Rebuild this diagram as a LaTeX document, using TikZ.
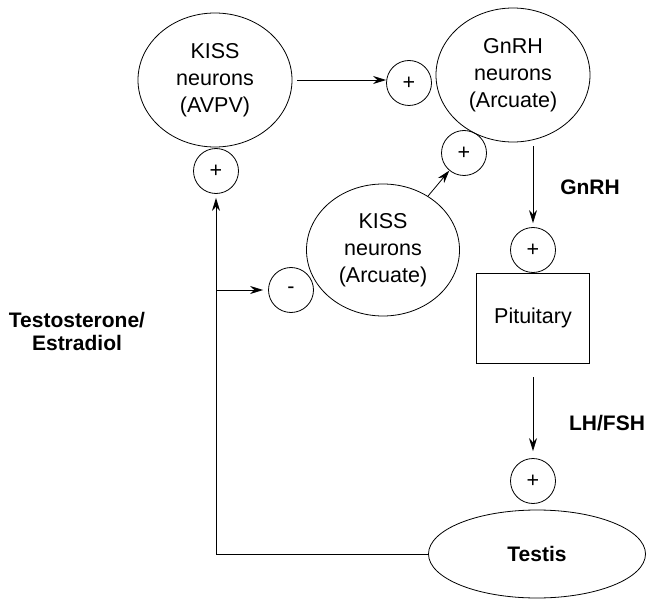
\documentclass[tikz,border=0pt]{standalone}
\usepackage{fontspec}
\setmainfont{Liberation Sans}
\usepackage{tikz}
\usetikzlibrary{shapes.geometric,arrows.meta}

\begin{document}
\begin{tikzpicture}[x=1pt, y=-1pt, line width=0.8pt,
  font=\fontsize{21.5}{27}\selectfont,
  cell/.style={draw, ellipse, align=center, inner sep=0pt, minimum width=154pt, minimum height=134pt},
  sign/.style={draw, circle, inner sep=0pt, minimum size=45pt},
  lbl/.style={font=\fontsize{21}{23}\selectfont\bfseries, align=center},
  arr/.style={-{Stealth[length=13pt,width=8pt]}, line width=0.8pt}]
\useasboundingbox (0,0) rectangle (646,599);
% ---- hypothalamus
\node[cell] (avpv) at (215,80) {KISS\\ neurons\\ (AVPV)};
\node[cell] (gnrh) at (513,75) {GnRH\\ neurons\\ (Arcuate)};
\node[cell, minimum width=153pt, minimum height=132pt] (kissarc) at (383,250) {KISS\\ neurons\\ (Arcuate)};
\node[sign] (pA) at (409,83) {+};
\node[sign] (pB) at (464,153) {+};
\node[sign] (pE) at (216,171) {+};
\node[sign] (mn) at (291,290) {-};
\draw[arr] ([xshift=5pt]avpv.east) -- (avpv.east -| pA.west);
\draw[arr] (kissarc) -- (pB);
% ---- pituitary and testis
\node[sign] (pC) at (533,250) {+};
\node[draw, minimum width=113pt, minimum height=90pt, inner sep=0pt] (pit) at (533,318) {Pituitary};
\node[sign] (pD) at (533,481) {+};
\node[draw, ellipse, inner sep=0pt, minimum width=217pt, minimum height=88pt, font=\fontsize{21}{27}\selectfont\bfseries] (testis) at (537,554) {Testis};
\draw[arr, shorten >=4pt] ([yshift=-4pt]gnrh.south -| pC.north) -- (pC.north);
\draw[arr, shorten <=14pt, shorten >=7pt] (pit.south) -- (pD.north);
\node[lbl] (lgnrh) at (590,187) {GnRH};
\node[lbl] (llh) at (607,423) {LH/FSH};
% ---- feedback
\draw[arr, shorten >=4pt] (testis.west) -| (pE.south);
\coordinate (br) at (pE.south |- mn.west);
\draw[arr, shorten >=5pt] (br) -- (mn.west);
\node[lbl] (lts) at (77,331) {Testosterone/\\ Estradiol};
\end{tikzpicture}
\end{document}
